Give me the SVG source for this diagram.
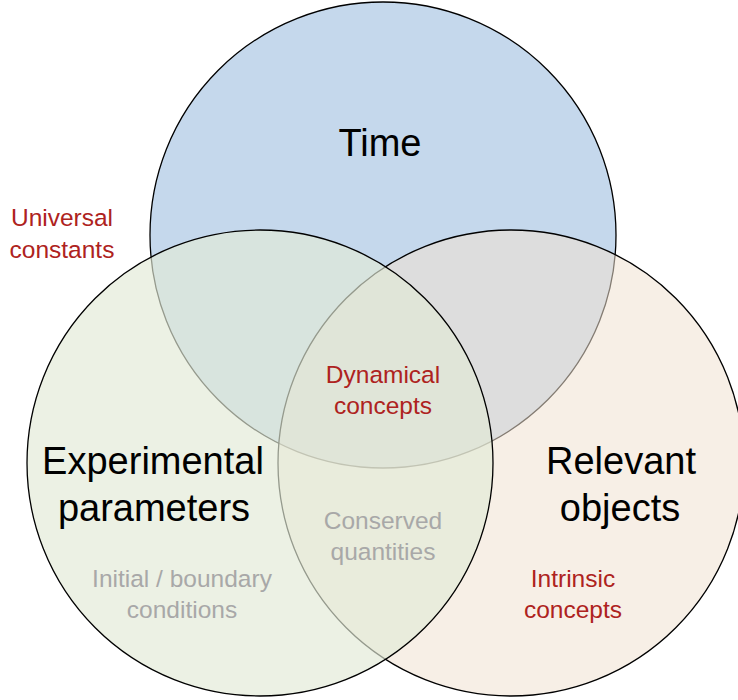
<svg xmlns="http://www.w3.org/2000/svg" width="738" height="700" viewBox="0 0 738 700">
<style>
.c{stroke:#000;stroke-width:1.3}
.big{font-family:"Liberation Sans",Arial,sans-serif;font-size:38px;fill:#000;text-anchor:middle}
.red{font-family:"Liberation Sans",Arial,sans-serif;font-size:24.5px;fill:#ae2220;text-anchor:middle}
.gray{font-family:"Liberation Sans",Arial,sans-serif;font-size:24.5px;fill:#a8a8a8;text-anchor:middle}
</style>
<rect width="738" height="700" fill="#fff"/>
<g id="time">
<circle class="c" cx="383" cy="235" r="233" fill="#c5d8ec"/>
<text class="big" x="380" y="156">Time</text>
</g>
<g id="relevant-objects">
<circle class="c" cx="511" cy="463" r="233" fill="#f1e1d1" fill-opacity="0.55"/>
<text class="big" x="621" y="474">Relevant</text>
<text class="big" x="620" y="521">objects</text>
</g>
<g id="experimental-parameters">
<circle class="c" cx="260" cy="463" r="233" fill="#e2ead6" fill-opacity="0.66"/>
<text class="big" x="153" y="474">Experimental</text>
<text class="big" x="154" y="521">parameters</text>
</g>
<g id="universal-constants">
<text class="red" x="62" y="226">Universal</text>
<text class="red" x="62" y="258">constants</text>
</g>
<g id="dynamical-concepts">
<text class="red" x="383" y="383">Dynamical</text>
<text class="red" x="383" y="414">concepts</text>
</g>
<g id="conserved-quantities">
<text class="gray" x="383" y="529">Conserved</text>
<text class="gray" x="383" y="560">quantities</text>
</g>
<g id="initial-boundary-conditions">
<text class="gray" x="182" y="587">Initial / boundary</text>
<text class="gray" x="182" y="618">conditions</text>
</g>
<g id="intrinsic-concepts">
<text class="red" x="573" y="587">Intrinsic</text>
<text class="red" x="573" y="618">concepts</text>
</g>
<g id="connectors"></g>
</svg>
